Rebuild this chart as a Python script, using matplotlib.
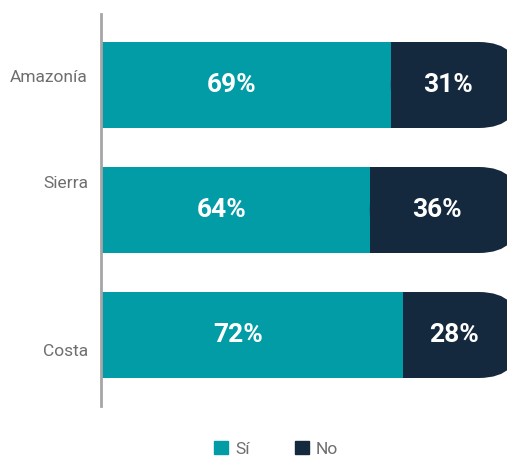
import matplotlib.pyplot as plt
from matplotlib.patches import FancyBboxPatch, Rectangle, Patch

# datos
regiones = ['Amazonía', 'Sierra', 'Costa']
si = [69, 64, 72]
no = [31, 36, 28]
legend_labels = ['Sí', 'No']

c_si = '#019ca6'
c_no = '#14293d'
c_txt = '#6e6e6e'

plt.rcParams['font.family'] = ['Roboto', 'DejaVu Sans']

fig = plt.figure(figsize=(5.07, 4.57), dpi=100)
W, H = 507, 457
ax = fig.add_axes([101 / W, 1 - 406 / H, (W - 101) / W, 392 / H])

px_x = 4.2    # pixeles por punto porcentual
px_y = 125.0  # pixeles por categoria
xmax = (W - 101) / px_x
ax.set_xlim(0, xmax)
ax.set_ylim(2 + (406 - 335) / px_y, -(85 - 14) / px_y)

h = 86 / px_y
r = 42 / px_x
asp = (42 / px_y) / r

for i, (s, n) in enumerate(zip(si, no)):
    ax.barh(i, s, height=h, color=c_si, linewidth=0)
    # segmento "No" con esquinas redondeadas a la derecha
    ax.add_patch(FancyBboxPatch((s, i - h / 2), n, h,
                                boxstyle='round,pad=0,rounding_size=%f' % r,
                                mutation_aspect=asp, fc=c_no, ec='none'))
    ax.add_patch(Rectangle((s, i - h / 2), r * 1.2, h, fc=c_no, ec='none'))
    ax.text(s / 2 - 3.3, i, f'{s}%', color='white', fontsize=19,
            fontweight='bold', ha='center', va='center')
    ax.text(s + n / 2 - 1.9, i, f'{n}%', color='white', fontsize=19,
            fontweight='bold', ha='center', va='center')

# etiquetas de categoria (desplazadas como en el original)
label_y = [-0.056, 0.784, 2.136]
for name, yy in zip(regiones, label_y):
    ax.text(-3.1, yy, name, color=c_txt, fontsize=12.5,
            ha='right', va='center')

for side in ['top', 'right', 'bottom']:
    ax.spines[side].set_visible(False)
ax.spines['left'].set_color('#a6a6a6')
ax.spines['left'].set_linewidth(2)
ax.set_xticks([])
ax.set_yticks([])

handles = [Patch(color=c_si), Patch(color=c_no)]
fig.legend(handles, legend_labels, loc='center', bbox_to_anchor=(0.545, 0.018),
           ncol=2, frameon=False, fontsize=12.5, labelcolor=c_txt,
           handlelength=0.8, handleheight=0.8, handletextpad=0.4,
           columnspacing=2.6)

fig.savefig('out.png', dpi=100)
